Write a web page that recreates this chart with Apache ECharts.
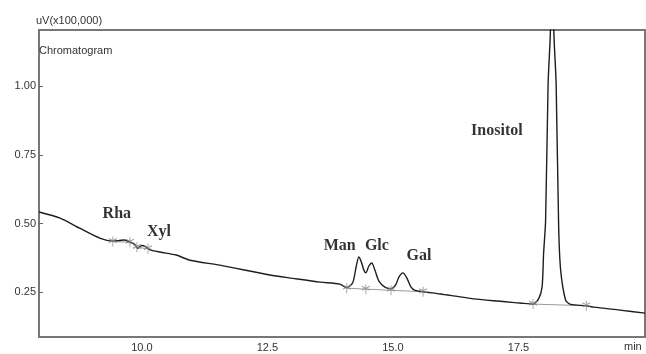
<!DOCTYPE html>
<html><head><meta charset="utf-8">
<script src="https://cdn.jsdelivr.net/npm/echarts@6/dist/echarts.min.js"></script>
<style>html,body{margin:0;padding:0;background:#fff}#c{width:646px;height:354px}</style>
</head><body><div id="c"></div>
<script>
// chromatogram trace: [time (min), signal (uV x100,000)]
const trace = [
 [7.95,0.542],[8.37,0.52],[8.76,0.483],[9.16,0.447],[9.42,0.436],[9.55,0.438],[9.65,0.44],
 [9.76,0.432],[9.85,0.425],[9.92,0.41],[10.0,0.42],[10.08,0.415],[10.15,0.405],[10.36,0.396],
 [10.68,0.385],[10.96,0.366],[11.55,0.348],[12.55,0.312],[13.0,0.30],[13.55,0.286],[13.94,0.279],
 [14.08,0.266],[14.2,0.285],[14.27,0.345],[14.32,0.378],[14.37,0.36],[14.42,0.33],[14.46,0.32],
 [14.52,0.345],[14.58,0.356],[14.64,0.33],[14.72,0.29],[14.84,0.268],[14.96,0.262],[15.05,0.275],
 [15.12,0.305],[15.2,0.32],[15.28,0.3],[15.36,0.268],[15.44,0.256],[15.6,0.251],[15.94,0.243],
 [16.5,0.228],[17.0,0.218],[17.53,0.21],[17.79,0.206],[17.9,0.225],[17.97,0.268],[18.0,0.39],
 [18.04,0.51],[18.09,1.01],[18.13,1.17],[18.17,1.4],[18.21,1.17],[18.25,1.01],[18.3,0.49],
 [18.34,0.33],[18.44,0.22],[18.54,0.205],[18.85,0.2],[19.0,0.195],[19.52,0.184],[20.02,0.173]
];
// integration baselines (segments)
const baselines = [
 [[9.42,0.434],[9.76,0.432]],
 [[9.9,0.413],[10.12,0.408]],
 [[14.08,0.264],[15.6,0.251]],
 [[17.79,0.206],[18.85,0.2]]
];
// integration marks
const marks = [[9.42,0.434],[9.76,0.432],[9.9,0.413],[10.12,0.408],[14.08,0.264],[14.46,0.26],
 [14.96,0.257],[15.6,0.251],[17.79,0.206],[18.85,0.2]];
// peak names and label anchors
const peakNames = ['Rha','Xyl','Man','Glc','Gal','Inositol'];
const peakLabelPos = [[9.5,0.535],[10.34,0.471],[13.94,0.418],[14.68,0.418],[15.52,0.382],[17.07,0.837]];
const xTicks = [10.0,12.5,15.0,17.5];
const yTicks = [0.25,0.50,0.75,1.00];

const chart = echarts.init(document.getElementById('c'));
const series = [{
  type:'line', data:trace, showSymbol:false, smooth:0.25, clip:true,
  lineStyle:{color:'#1e1e1e',width:1.4}, z:5
}];
baselines.forEach(b=>series.push({type:'line',data:b,showSymbol:false,lineStyle:{color:'#9a9a9a',width:1},z:4,silent:true}));
series.push({
  type:'scatter', data:marks, symbol:'path://M0,-4L0,6M-4,-2L4,2M-4,2L4,-2', symbolSize:[8,10],
  itemStyle:{color:'none',borderColor:'#888',borderWidth:1}, z:6, silent:true
});
series.push({
  type:'scatter', data:peakLabelPos.map((p,i)=>({value:p,name:peakNames[i]})), symbolSize:0,
  label:{show:true,position:'inside',formatter:p=>p.name,fontFamily:'Liberation Serif',fontWeight:'bold',fontSize:16,color:'#000',textBorderWidth:0},
  z:7, silent:true
});
chart.setOption({
  animation:false,
  grid:{left:39,right:1,top:30,bottom:17,show:true,borderColor:'#777',borderWidth:2},
  xAxis:{type:'value',min:7.95,max:20.02,
    axisLine:{show:false},splitLine:{show:false},axisTick:{show:false},
    axisLabel:{customValues:xTicks,formatter:v=>v.toFixed(1),fontFamily:'Liberation Sans',fontSize:11,color:'#333',margin:5}},
  yAxis:{type:'value',min:0.086,max:1.206,
    axisLine:{show:false},splitLine:{show:false},
    axisTick:{show:true,inside:true,length:4,customValues:yTicks,lineStyle:{color:'#666',width:1}},
    axisLabel:{customValues:yTicks,formatter:v=>v.toFixed(2),fontFamily:'Liberation Sans',fontSize:11,color:'#333',margin:3}},
  graphic:[
    {type:'text',left:36,top:15,style:{text:'uV(x100,000)',font:'11px Liberation Sans',fill:'#333'}},
    {type:'text',left:39,top:45,style:{text:'Chromatogram',font:'11px Liberation Sans',fill:'#333'}},
    {type:'text',left:624,top:341,style:{text:'min',font:'11px Liberation Sans',fill:'#333'}}
  ],
  series:series
});
</script></body></html>
